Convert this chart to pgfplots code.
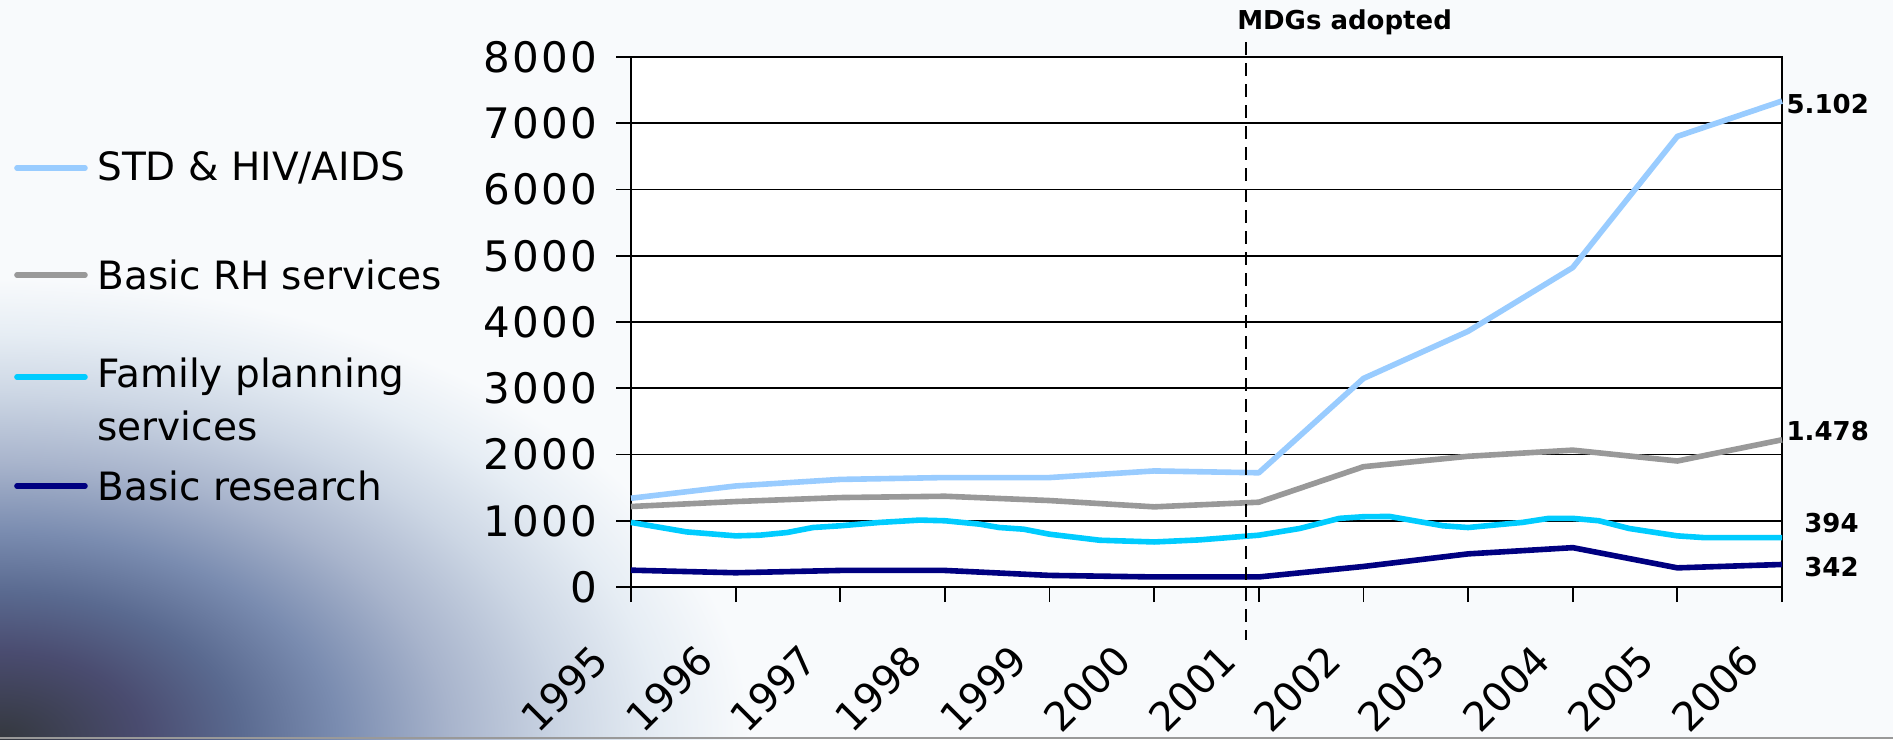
\documentclass[border=0pt]{standalone}
\usepackage{fontspec}
\setmainfont{DejaVu Sans}
\newfontfamily\tickfont[LetterSpace=5]{DejaVu Sans}
\usepackage{pgfplots}
\pgfplotsset{compat=1.18}
\definecolor{cstd}{HTML}{99CCFF}
\definecolor{crh}{HTML}{999999}
\definecolor{cfp}{HTML}{00CCFF}
\definecolor{cbr}{HTML}{000080}
\definecolor{bgA}{HTML}{34383E}
\definecolor{bgB}{HTML}{4A4C70}
\definecolor{bgC}{HTML}{5A6A90}
\definecolor{bgD}{HTML}{7A8CB0}
\definecolor{bgE}{HTML}{A8B4CC}
\definecolor{bgF}{HTML}{CCD6E4}
\definecolor{bgG}{HTML}{E6EDF4}
\definecolor{bgH}{HTML}{F8FAFC}
\pgfdeclareradialshading{bgshade}{\pgfpoint{0bp}{0bp}}{color(0bp)=(bgA); color(4.75bp)=(bgB); color(8bp)=(bgC); color(11.25bp)=(bgD); color(15bp)=(bgE); color(18.75bp)=(bgF); color(22bp)=(bgG); color(25bp)=(bgH); color(50bp)=(bgH)}
\begin{document}
\begin{tikzpicture}
\useasboundingbox (-315.5pt,-76pt) rectangle (631pt,293.5pt);
\fill[bgH] (-315.5pt,-76pt) rectangle (631pt,293.5pt);
\begin{scope}
\clip (-315.5pt,-76pt) rectangle (631pt,293.5pt);
\shade[shading=bgshade] (-315.5pt,-76pt) ellipse [x radius=375pt, y radius=230pt];
\end{scope}
\fill[white] (0pt,0pt) rectangle (575.5pt,265pt);
\fill[gray!80] (-315.5pt,-76pt) rectangle (631pt,-75pt);
\begin{axis}[
  at={(0pt,0pt)}, anchor=south west,
  width=575.5pt, height=265pt, scale only axis,
  xmin=0, xmax=11, ymin=0, ymax=8000,
  xtick={0,...,11},
  xticklabels={1995,1996,1997,1998,1999,2000,2001,2002,2003,2004,2005,2006},
  ytick={0,1000,...,8000},
  ymajorgrids,
  major grid style={black, line width=0.9pt},
  axis line style={black, line width=0.9pt},
  tick style={black, line width=0.9pt},
  tick align=outside, major tick length=7.5pt,
  xtick pos=bottom, ytick pos=left,
  yticklabel style={font=\tickfont\fontsize{21}{25}\selectfont, xshift=-6pt},
  xticklabel style={font=\fontsize{20}{23}\selectfont, inner sep=0pt, xshift=-15.2pt, yshift=-25.2pt, rotate=45, anchor=east},
  /pgf/number format/assume math mode=true,
  /pgf/number format/1000 sep={},
  scaled y ticks=false,
  clip=false,
]
\addplot[cstd, line width=2.8pt, line join=round] coordinates {
(0,1340) (1,1525) (2,1624) (3,1652) (4,1652) (5,1752) (6,1724) (7,3148) (8,3860) (9,4822) (10,6802) (11,7336)};
\addplot[crh, line width=2.8pt, line join=round] coordinates {
(0,1215) (1,1290) (2,1350) (3,1370) (4,1305) (5,1210) (6,1280) (7,1816) (8,1973) (9,2066) (10,1902) (11,2222)};
\addplot[cfp, line width=2.8pt, line join=round] coordinates {
(0,975) (0.53,832) (1.0,772) (1.23,782) (1.49,822) (1.74,898) (2.0,924) (2.38,975) (2.76,1010) (3.0,1000) (3.33,949) (3.52,898) (3.75,873) (4.0,797) (4.48,706) (5.0,680) (5.43,711) (6.0,782) (6.39,883) (6.77,1036) (7.0,1061) (7.25,1065) (7.76,924) (8.0,898) (8.52,975) (8.77,1036) (9.0,1036) (9.25,1000) (9.54,883) (10.0,772) (10.25,746) (11.0,746)};
\addplot[cbr, line width=2.8pt, line join=round] coordinates {
(0,254) (1,215) (2,250) (3,250) (4,175) (5,152) (6,152) (7,310) (8,500) (9,594) (10,289) (11,340)};
\draw[black, line width=1.1pt, dash pattern=on 6.5pt off 4pt] (axis cs:5.88,8226) -- (axis cs:5.88,-800);
\node[anchor=west, font=\fontsize{13}{15}\selectfont\bfseries, inner sep=0pt] at (axis cs:5.79,8530) {MDGs adopted};
\node[anchor=west, font=\fontsize{13}{15}\selectfont\bfseries, inner sep=0pt] at (axis cs:11.04,7285) {5.102};
\node[anchor=west, font=\fontsize{13}{15}\selectfont\bfseries, inner sep=0pt] at (axis cs:11.04,2353) {1.478};
\node[anchor=west, font=\fontsize{13}{15}\selectfont\bfseries, inner sep=0pt] at (axis cs:11.21,965) {394};
\node[anchor=west, font=\fontsize{13}{15}\selectfont\bfseries, inner sep=0pt] at (axis cs:11.21,302) {342};
\end{axis}
\begin{scope}[every node/.style={anchor=west, inner sep=0pt, font=\fontsize{19.5}{23}\selectfont}]
\draw[cstd, line width=2.8pt, line cap=round] (-307pt,209.5pt) -- (-273pt,209.5pt);
\node at (-267pt,209.5pt) {STD \& HIV/AIDS};
\draw[crh, line width=2.8pt, line cap=round] (-307pt,156pt) -- (-273pt,156pt);
\node at (-267pt,156pt) {Basic RH services};
\draw[cfp, line width=2.8pt, line cap=round] (-307pt,105pt) -- (-273pt,105pt);
\node at (-267pt,105pt) {Family planning};
\node at (-267pt,80.5pt) {services};
\draw[cbr, line width=2.8pt, line cap=round] (-307pt,50.5pt) -- (-273pt,50.5pt);
\node at (-267pt,50.5pt) {Basic research};
\end{scope}
\end{tikzpicture}
\end{document}
